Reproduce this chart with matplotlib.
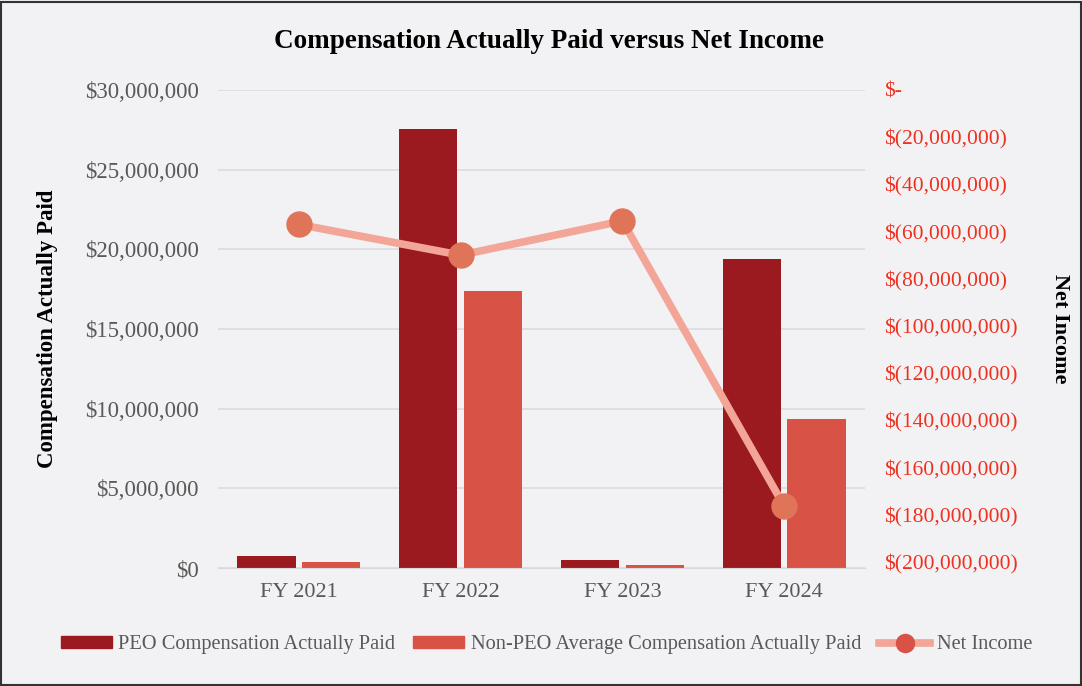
import numpy as np
import matplotlib.pyplot as plt
from matplotlib.ticker import FuncFormatter
from matplotlib.lines import Line2D
from matplotlib.patches import Patch, Rectangle

years = ['FY 2021', 'FY 2022', 'FY 2023', 'FY 2024']
peo_cap = [750000, 27550000, 500000, 19400000]
non_peo_cap = [380000, 17390000, 190000, 9350000]
net_income = [-57000000, -70000000, -55500000, -176300000]

peo_color = '#9A1A1F'
non_peo_color = '#D85246'
line_color = '#F3A697'
marker_color = '#E07458'
bg = '#F2F2F4'

plt.rcParams['font.family'] = ['Liberation Serif', 'DejaVu Serif']

fig = plt.figure(figsize=(10.82, 6.86), dpi=100, facecolor=bg)
fig.patches.append(Rectangle((0.001, 0.001), 0.998, 0.996, transform=fig.transFigure,
                             fill=False, edgecolor='#333333', linewidth=1.5))
ax = fig.add_axes([0.2015, 0.172, 0.598, 0.697])
ax.set_facecolor(bg)

x = np.arange(len(years))
w = 0.36
ax.bar(x - w / 2 - 0.02, peo_cap, w, color=peo_color, zorder=2)
ax.bar(x + w / 2 + 0.02, non_peo_cap, w, color=non_peo_color, zorder=2)

ax.set_xlim(-0.5, 3.5)
ax.set_ylim(0, 30000000)
ax.set_yticks(np.arange(0, 30000001, 5000000))
ax.yaxis.set_major_formatter(FuncFormatter(lambda v, p: '$0' if v == 0 else '${:,.0f}'.format(v)))
ax.set_xticks(x)
ax.set_xticklabels(years)
ax.grid(axis='y', color='#DCDCDE', linewidth=1.2, zorder=0)
for s in ['top', 'right', 'left']:
    ax.spines[s].set_visible(False)
ax.spines['bottom'].set_color('#D8D8DA')
ax.tick_params(axis='y', length=0, labelsize=16.5, labelcolor='#595959', pad=14)
ax.tick_params(axis='x', length=0, labelsize=16, labelcolor='#595959', pad=11)
ax.set_ylabel('Compensation Actually Paid', fontsize=16.5, fontweight='bold')
ax.yaxis.set_label_coords(-0.248, 0.5)

ax2 = ax.twinx()
ax2.plot(x, net_income, color=line_color, linewidth=5.5, marker='o', markersize=18,
         markerfacecolor=marker_color, markeredgecolor=marker_color, zorder=3)
ax2.set_ylim(-202500000, 0)
ax2.set_yticks(np.arange(-200000000, 1, 20000000))
ax2.yaxis.set_major_formatter(FuncFormatter(lambda v, p: '$-' if v == 0 else '$({:,.0f})'.format(-v)))
for s in ax2.spines.values():
    s.set_visible(False)
ax2.tick_params(axis='y', length=0, labelsize=15.5, labelcolor='#F0301E', pad=14)
ax2.set_ylabel('Net Income', fontsize=16, fontweight='bold', rotation=-90, va='center')
ax2.yaxis.set_label_coords(1.302, 0.5)

fig.suptitle('Compensation Actually Paid versus Net Income', fontsize=19.5, fontweight='bold',
             y=0.958, x=0.507)

handles = [Patch(color=peo_color), Patch(color=non_peo_color),
           Line2D([], [], color=line_color, linewidth=5.5, marker='o', markersize=13,
                  markerfacecolor=non_peo_color, markeredgecolor=non_peo_color)]
labels = ['PEO Compensation Actually Paid', 'Non-PEO Average Compensation Actually Paid', 'Net Income']
leg = fig.legend(handles, labels, loc='center', bbox_to_anchor=(0.505, 0.06), ncol=3,
                 frameon=False, fontsize=14.7, handlelength=2.5, handleheight=0.55,
                 columnspacing=0.9, handletextpad=0.3)
for t in leg.get_texts():
    t.set_color('#595959')

fig.savefig('out.png', dpi=100, facecolor=bg)
